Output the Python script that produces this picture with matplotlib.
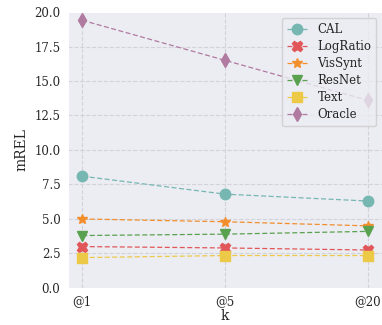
import numpy as np
import matplotlib.pyplot as plt
import seaborn as sns

sns.set_style("darkgrid", {"grid.linestyle": "--", "grid.color": "#d2d2da",
	"axes.facecolor": "#ececf3"})
plt.rcParams['font.family'] = ['DejaVu Serif']

ks = ["@1", "@5", "@20"]
names = ["CAL", "LogRatio", "VisSynt", "ResNet", "Text", "Oracle"]
cal = [8.1, 6.8, 6.3]
logratio = [3.0, 2.9, 2.75]
vissynt = [5.0, 4.8, 4.5]
resnet = [3.8, 3.9, 4.1]
text = [2.2, 2.35, 2.35]
oracle = [19.4, 16.5, 13.6]

series = [cal, logratio, vissynt, resnet, text, oracle]
colors = ["#76b7b2", "#e15759", "#f28e2b", "#59a14f", "#edc948", "#b07aa1"]
markers = ["o", "X", "*", "v", "s", "d"]

fig = plt.figure(figsize=(3.82, 3.25), dpi=100)
ax = fig.add_axes([0.178, 0.114, 0.822, 0.849])
x = np.arange(len(ks))
for vals, name, c, m in zip(series, names, colors, markers):
	ax.plot(x, vals, linestyle="--", marker=m, color=c, label=name,
		markersize=7.5, linewidth=0.9, dashes=(4, 2))

ax.set_xticks(x)
ax.set_xticklabels(ks)
ax.set_xlim(-0.1, 2.1)
ax.set_ylim(0, 20)
ax.set_yticks(np.arange(0, 20.1, 2.5))
ax.tick_params(labelsize=8.5, pad=2)
ax.set_xlabel("k", fontsize=10, labelpad=0)
ax.set_ylabel("mREL", fontsize=10)
ax.legend(loc="upper right", fontsize=8.5, handlelength=1.8, labelspacing=0.35)

fig.savefig("out.png")
